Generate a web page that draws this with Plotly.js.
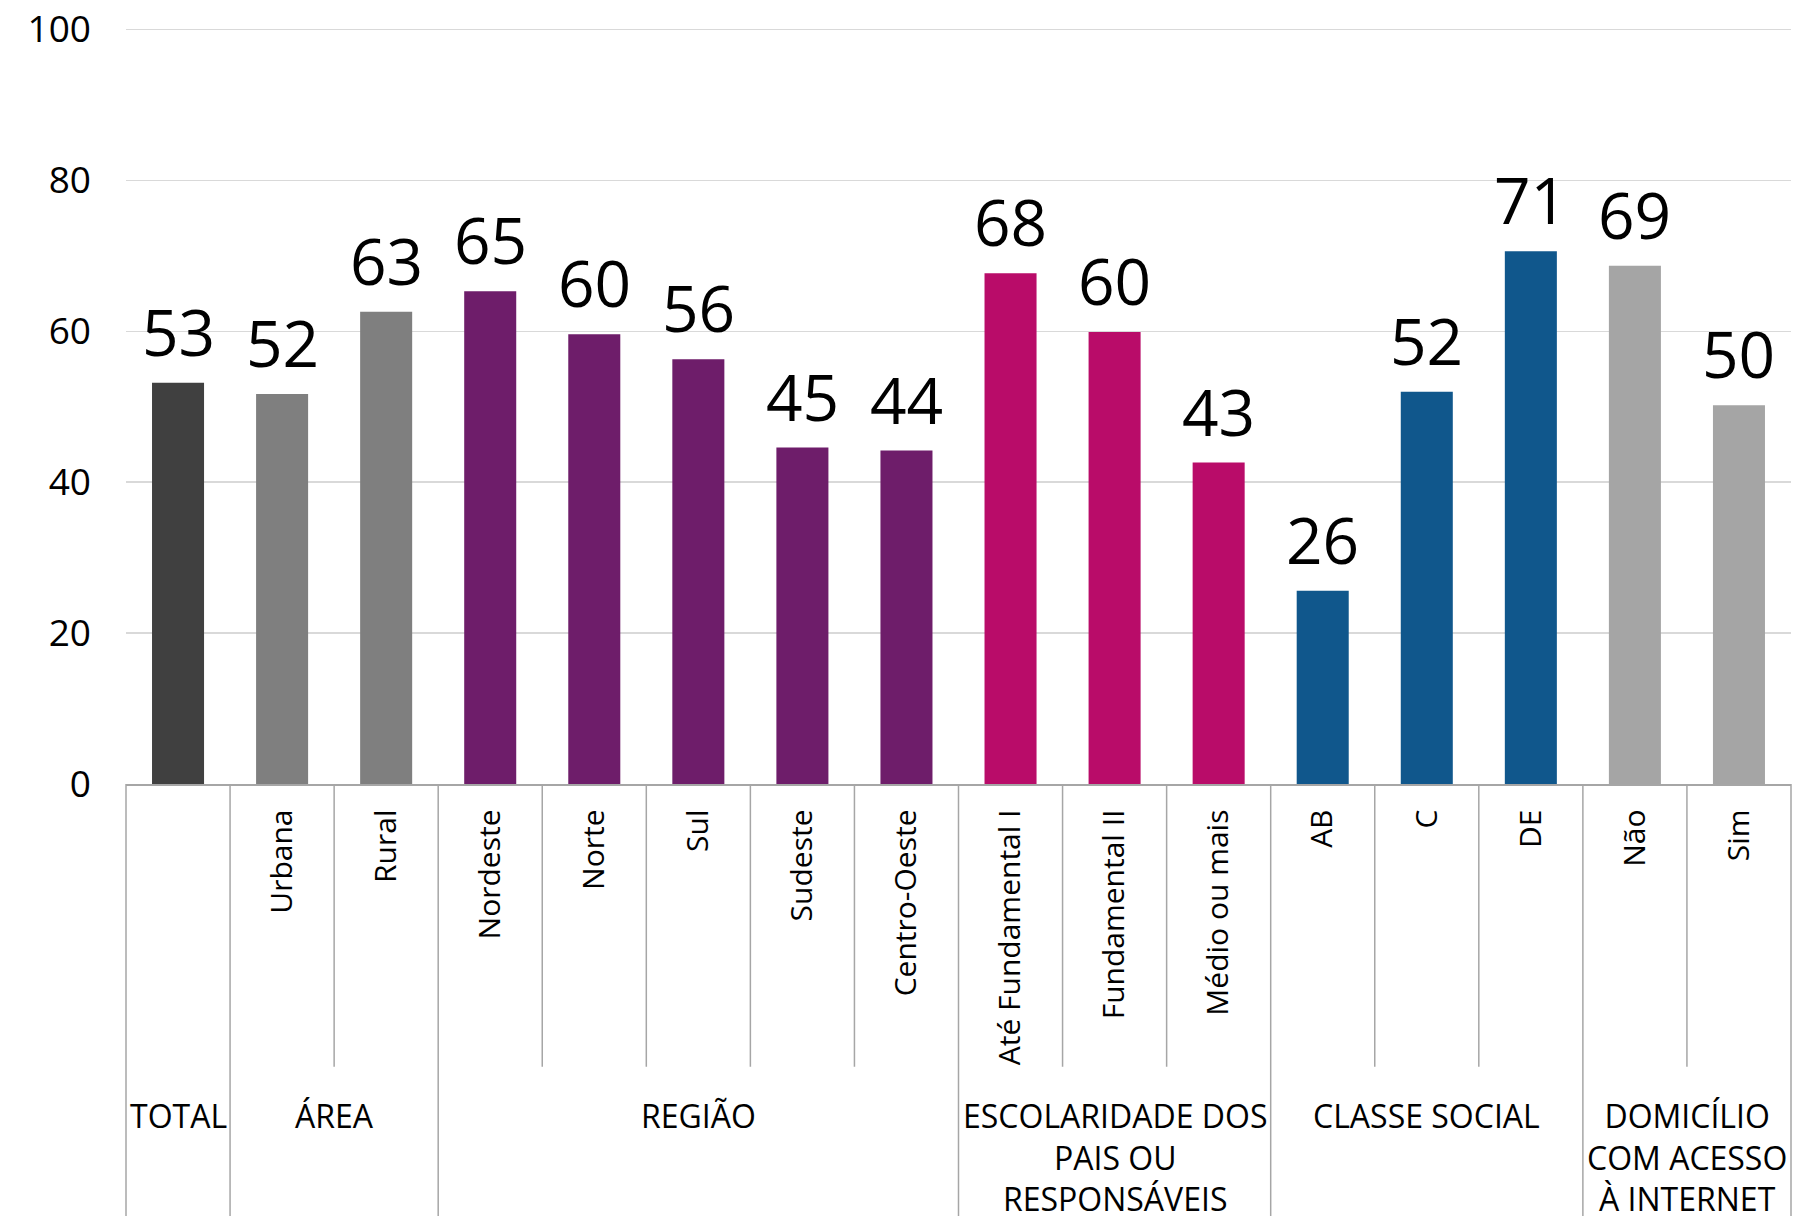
<!DOCTYPE html>
<html><head><meta charset="utf-8">
<script src="https://cdn.plot.ly/plotly-3.0.1.min.js"></script>
<style>html,body{margin:0;padding:0;background:#fff}#chart{width:1808px;height:1216px}</style>
</head><body><div id="chart"></div>
<script>
const categories = ["TOTAL","Urbana","Rural","Nordeste","Norte","Sul","Sudeste","Centro-Oeste","Até Fundamental I","Fundamental II","Médio ou mais","AB","C","DE","Não","Sim"];
const tickLabels = ["","Urbana","Rural","Nordeste","Norte","Sul","Sudeste","Centro-Oeste","Até Fundamental I","Fundamental II","Médio ou mais","AB","C","DE","Não","Sim"];
const values = [53.2,51.7,62.6,65.3,59.6,56.3,44.6,44.2,67.7,59.9,42.6,25.6,52.0,70.6,68.7,50.2];
const groupNames = ["TOTAL","ÁREA","REGIÃO","ESCOLARIDADE DOS<br>PAIS OU<br>RESPONSÁVEIS","CLASSE SOCIAL","DOMICÍLIO<br>COM ACESSO<br>À INTERNET"];
const groupSizes = [1,2,5,3,3,2];
const groupColors = ["#404040","#7f7f7f","#6e1d6a","#b90c69","#10578c","#a5a5a5"];
const yTicks = [0,20,40,60,80,100];

const FONT = "Open Sans, Noto Sans, sans-serif";
const DIV = "#a6a6a6";

// colours per bar from groups
const barColors = [];
groupSizes.forEach((n,g)=>{for(let i=0;i<n;i++) barColors.push(groupColors[g]);});

const trace = {
  type: "bar",
  x: categories,
  y: values,
  marker: {color: barColors},
  hoverinfo: "x+y",
  showlegend: false
};

const annotations = [];
// data labels
categories.forEach((c,i)=>{
  annotations.push({
    x: c, y: values[i], xref: "x", yref: "y",
    text: String(Math.round(values[i])),
    showarrow: false, yanchor: "bottom", yshift: 6,
    font: {family: FONT, size: 64, color: "#000"}
  });
});

// group labels and dividers
const shapes = [];
let start = 0;
groupSizes.forEach((n,g)=>{
  const center = start + (n-1)/2;
  annotations.push({
    x: center, xref: "x", y: -0.4037, yref: "paper",
    text: groupNames[g], showarrow: false, yanchor: "top", xanchor: "center",
    font: {family: FONT, size: 32, color: "#000"}
  });
  for (let k=1;k<n;k++){
    shapes.push({type:"line", xref:"x", yref:"paper", x0:start+k-0.5, x1:start+k-0.5, y0:0, y1:-0.371, line:{color:DIV, width:1.5}});
  }
  if (start>0){
    shapes.push({type:"line", xref:"x", yref:"paper", x0:start-0.5, x1:start-0.5, y0:0, y1:-0.6, line:{color:DIV, width:1.5}});
  }
  start += n;
});
shapes.push({type:"line", xref:"paper", yref:"paper", x0:0, x1:0, y0:0, y1:-0.6, line:{color:DIV, width:1.5}});
shapes.push({type:"line", xref:"paper", yref:"paper", x0:1, x1:1, y0:0, y1:-0.6, line:{color:DIV, width:1.5}});

const layout = {
  width: 1808, height: 1216,
  margin: {l:126, r:17, t:22, b:432},
  paper_bgcolor: "#fff", plot_bgcolor: "#fff",
  bargap: 0.5,
  font: {family: FONT, color: "#000"},
  xaxis: {
    type: "category", tickvals: categories, ticktext: tickLabels,
    tickangle: -90, ticks: "", ticklabelstandoff: 12,
    tickfont: {family: FONT, size: 30, color: "#000"},
    showline: true, linecolor: DIV, linewidth: 1.5,
    showgrid: false, zeroline: false, fixedrange: true
  },
  yaxis: {
    range: [0,101], tickvals: yTicks, ticks: "", ticklabelstandoff: 34,
    tickfont: {family: FONT, size: 37, color: "#000"},
    showgrid: true, gridcolor: "#d9d9d9", gridwidth: 1.5,
    zeroline: false, showline: false, fixedrange: true
  },
  annotations: annotations,
  shapes: shapes
};

Plotly.newPlot("chart", [trace], layout, {displayModeBar: false, staticPlot: true});
</script>
</body></html>
